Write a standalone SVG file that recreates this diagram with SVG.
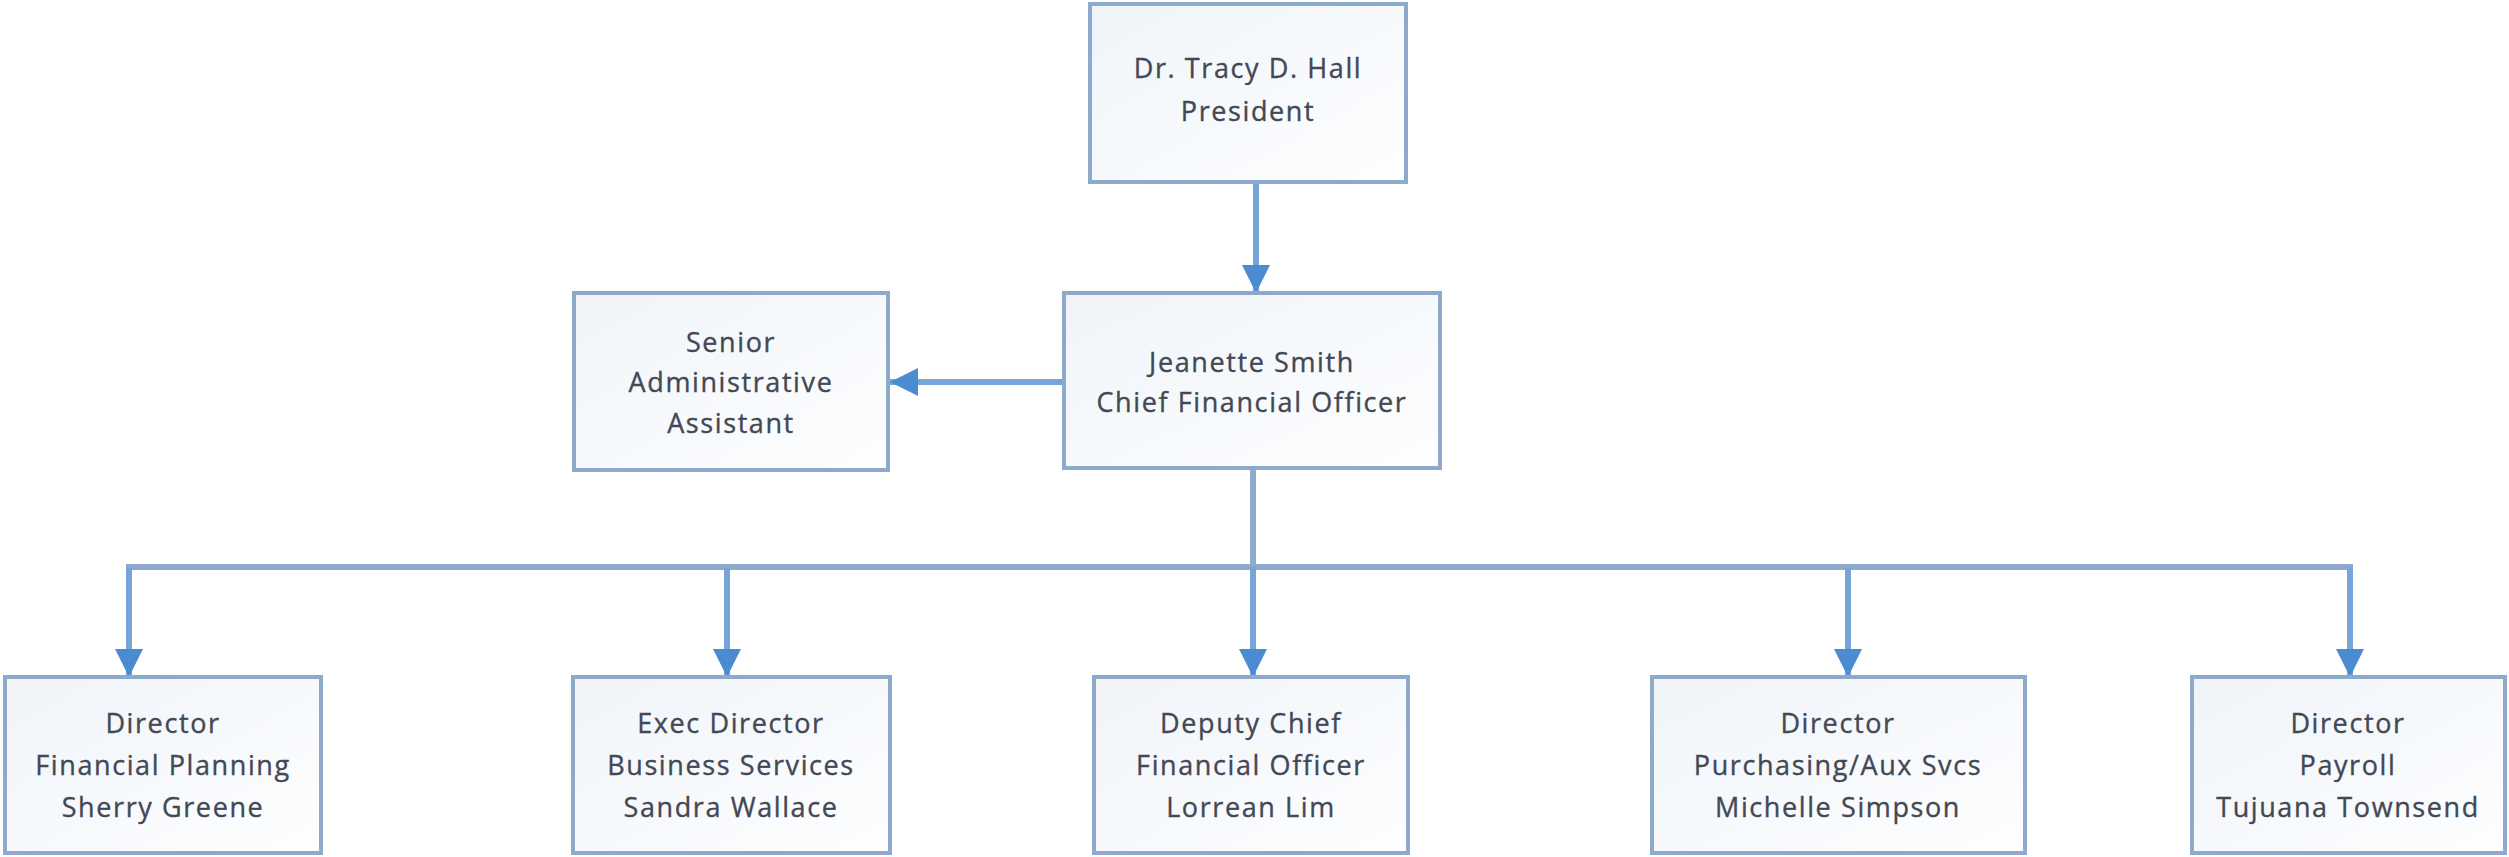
<svg xmlns="http://www.w3.org/2000/svg" width="2509" height="857" viewBox="0 0 2509 857">
  <style>
    .box { fill: url(#boxFill); stroke: #8eaaca; stroke-width: 4; }
    .label { font-family: "Open Sans", "Liberation Sans", sans-serif; font-size: 27px; fill: #434855; stroke: #434855; stroke-width: 0.35; text-anchor: middle; letter-spacing: 1.6px; }
    .conn { fill: none; stroke: #78a5d8; stroke-width: 6; }
    .trunk { fill: none; stroke: #8eabcd; stroke-width: 6; }
  </style>
  <defs>
    <linearGradient id="boxFill" x1="0" y1="0" x2="1" y2="1">
      <stop offset="0" stop-color="#f0f4f9"/>
      <stop offset="1" stop-color="#fdfeff"/>
    </linearGradient>
    <marker id="arrow" viewBox="0 0 28 28" refX="28" refY="14" markerWidth="28" markerHeight="28" markerUnits="userSpaceOnUse" orient="auto">
      <path d="M0,0 L28,14 L0,28 z" fill="#4c8bd0"/>
    </marker>
  </defs>

  <rect width="2509" height="857" fill="#ffffff"/>

  <!-- connectors -->
  <g id="connectors">
    <line class="conn" x1="1256" y1="182" x2="1256" y2="293" marker-end="url(#arrow)"/>
    <line class="conn" x1="1064" y1="382" x2="890" y2="382" marker-end="url(#arrow)"/>
    <line class="trunk" x1="1253" y1="468" x2="1253" y2="567"/>
    <line class="trunk" x1="126" y1="567" x2="2353" y2="567"/>
    <line class="conn" x1="129" y1="567" x2="129" y2="677" marker-end="url(#arrow)"/>
    <line class="conn" x1="727" y1="567" x2="727" y2="677" marker-end="url(#arrow)"/>
    <line class="conn" x1="1253" y1="567" x2="1253" y2="677" marker-end="url(#arrow)"/>
    <line class="conn" x1="1848" y1="567" x2="1848" y2="677" marker-end="url(#arrow)"/>
    <line class="conn" x1="2350" y1="567" x2="2350" y2="677" marker-end="url(#arrow)"/>
  </g>

  <!-- nodes -->
  <g id="president">
    <rect class="box" x="1090" y="4" width="316" height="178"/>
    <text class="label" x="1248" y="78">Dr. Tracy D. Hall</text>
    <text class="label" x="1248" y="121">President</text>
  </g>

  <g id="cfo">
    <rect class="box" x="1064" y="293" width="376" height="175"/>
    <text class="label" x="1252" y="372">Jeanette Smith</text>
    <text class="label" x="1252" y="412">Chief Financial Officer</text>
  </g>

  <g id="senior-admin">
    <rect class="box" x="574" y="293" width="314" height="177"/>
    <text class="label" x="731" y="352">Senior</text>
    <text class="label" x="731" y="392">Administrative</text>
    <text class="label" x="731" y="433">Assistant</text>
  </g>

  <g id="financial-planning">
    <rect class="box" x="5" y="677" width="316" height="176"/>
    <text class="label" x="163" y="733">Director</text>
    <text class="label" x="163" y="775">Financial Planning</text>
    <text class="label" x="163" y="817">Sherry Greene</text>
  </g>

  <g id="business-services">
    <rect class="box" x="573" y="677" width="317" height="176"/>
    <text class="label" x="731" y="733">Exec Director</text>
    <text class="label" x="731" y="775">Business Services</text>
    <text class="label" x="731" y="817">Sandra Wallace</text>
  </g>

  <g id="deputy-cfo">
    <rect class="box" x="1094" y="677" width="314" height="176"/>
    <text class="label" x="1251" y="733">Deputy Chief</text>
    <text class="label" x="1251" y="775">Financial Officer</text>
    <text class="label" x="1251" y="817">Lorrean Lim</text>
  </g>

  <g id="purchasing">
    <rect class="box" x="1652" y="677" width="373" height="176"/>
    <text class="label" x="1838" y="733">Director</text>
    <text class="label" x="1838" y="775">Purchasing/Aux Svcs</text>
    <text class="label" x="1838" y="817">Michelle Simpson</text>
  </g>

  <g id="payroll">
    <rect class="box" x="2192" y="677" width="313" height="176"/>
    <text class="label" x="2348" y="733">Director</text>
    <text class="label" x="2348" y="775">Payroll</text>
    <text class="label" x="2348" y="817">Tujuana Townsend</text>
  </g>
</svg>
